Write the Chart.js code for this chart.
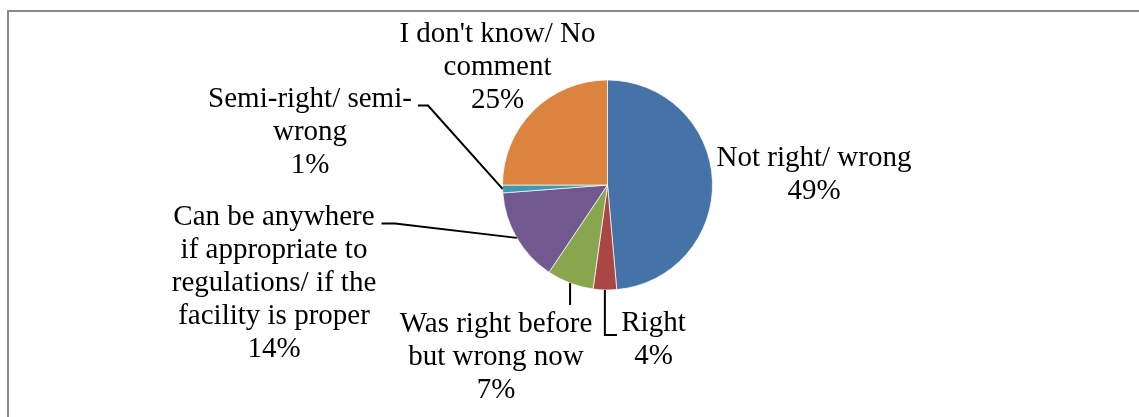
<!DOCTYPE html>
<html>
<head>
<meta charset="utf-8">
<script src="https://cdn.jsdelivr.net/npm/chart.js@4/dist/chart.umd.min.js"></script>
<style>
  html, body { margin: 0; padding: 0; background: #fff; }
  #wrap { position: relative; width: 1139px; height: 417px; overflow: hidden; }
  #frame { position: absolute; left: 7px; top: 10px; width: 1150px; height: 430px;
           border-left: 2px solid #8a8a8a; border-top: 2px solid #8a8a8a; pointer-events: none; }
  canvas { position: absolute; left: 0; top: 0; }
</style>
</head>
<body>
<div id="wrap">
  <canvas id="c" width="1139" height="417"></canvas>
  <div id="frame"></div>
</div>
<script>
// ---- data ----
const categories = [
  ["Not right/ wrong"],
  ["Right"],
  ["Was right before", "but wrong now"],
  ["Can be anywhere", "if appropriate to", "regulations/ if the", "facility is proper"],
  ["Semi-right/ semi-", "wrong"],
  ["I don't know/ No", "comment"]
];
const values = [48.6, 3.6, 7.2, 14.4, 1.2, 25.0];
const colors = ["#4572A7", "#AA4643", "#89A54E", "#71588F", "#4198AF", "#DB843D"];

// ---- label layout (offsets from pie centre; null x = use slice edge x) ----
const labelLayout = [
  { dx: 206.5, dy: -19, leader: null },
  { dx: 46, dy: 146, leader: [[null, 150], [9.5, 150]] },
  { dx: -111.5, dy: 146.5, leader: [[null, 120]] },
  { dx: -333.5, dy: 39.5, leader: [[-212.5, 38.5], [-226, 38.5]] },
  { dx: -297.5, dy: -78.5, leader: [[-179.5, -79.5], [-189.5, -79.5]] },
  { dx: -110, dy: -143, leader: null }
];

const FONT = '29px "Liberation Serif", "Times New Roman", serif';
const LINE_H = 33;

const total = values.reduce((a, b) => a + b, 0);

const labelPlugin = {
  id: 'sliceLabels',
  afterDatasetsDraw(chart) {
    const ctx = chart.ctx;
    const meta = chart.getDatasetMeta(0);
    ctx.save();
    meta.data.forEach((arc, i) => {
      const p = arc.getProps(['x', 'y', 'startAngle', 'endAngle', 'outerRadius'], true);
      const mid = (p.startAngle + p.endAngle) / 2;
      const ex = p.x + Math.cos(mid) * p.outerRadius;
      const ey = p.y + Math.sin(mid) * p.outerRadius;
      const lay = labelLayout[i];
      if (lay.leader) {
        ctx.beginPath();
        ctx.strokeStyle = '#000';
        ctx.lineWidth = 2;
        ctx.lineJoin = 'miter';
        ctx.moveTo(ex, ey);
        lay.leader.forEach(pt => {
          const px = pt[0] === null ? ex : p.x + pt[0];
          ctx.lineTo(px, p.y + pt[1]);
        });
        ctx.stroke();
      }
      const lines = categories[i].concat([Math.round(values[i] / total * 100) + '%']);
      ctx.font = FONT;
      ctx.fillStyle = '#000';
      ctx.textAlign = 'center';
      ctx.textBaseline = 'alphabetic';
      lines.forEach((t, k) => {
        ctx.fillText(t, p.x + lay.dx, p.y + lay.dy + k * LINE_H);
      });
    });
    ctx.restore();
  }
};

new Chart(document.getElementById('c'), {
  type: 'pie',
  data: {
    labels: categories.map(l => l.join(' ')),
    datasets: [{
      data: values,
      backgroundColor: colors,
      borderColor: 'rgba(255,255,255,0.7)',
      borderWidth: 1
    }]
  },
  options: {
    responsive: false,
    animation: false,
    devicePixelRatio: 1,
    radius: 105,
    layout: { padding: { left: 497, right: 421, top: 75, bottom: 122 } },
    plugins: { legend: { display: false }, tooltip: { enabled: false } }
  },
  plugins: [labelPlugin]
});
</script>
</body>
</html>
